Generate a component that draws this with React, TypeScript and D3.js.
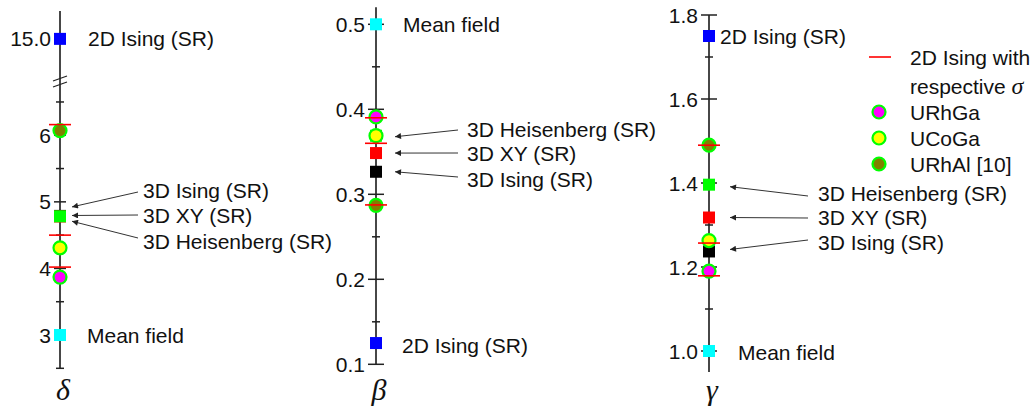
import React from "react";
import * as d3 from "d3";

// ---- data ----
const models = ["2D Ising (SR)", "3D Ising (SR)", "3D XY (SR)", "3D Heisenberg (SR)", "Mean field"];
const modelColors = ["#0000ff", "#000000", "#ff0000", "#00ff00", "#00ffff"];
const deltaModel = [15.0, 4.789, 4.78, 4.783, 3.0];
const betaModel = [0.125, 0.3265, 0.3485, 0.3689, 0.5];
const gammaModel = [1.75, 1.237, 1.3178, 1.396, 1.0];

const materials = ["URhGa", "UCoGa", "URhAl [10]"];
const materialColors = ["#ff00ff", "#ffff00", "#808000"];
const deltaExp = [3.87, 4.31, 6.07];
const betaExp = [0.391, 0.369, 0.287];
const gammaExp = [1.19, 1.263, 1.49];

// 2D Ising with respective sigma
const deltaSigma = [4.02, 4.5, 6.16];
const betaSigma = [0.39, 0.36, 0.2875];
const gammaSigma = [1.179, 1.257, 1.49];

const deltaMajor = [3, 4, 5, 6, 15.0];
const deltaMinor = [2.5, 3.5, 4.5, 5.5, 6.5];
const betaMajor = [0.1, 0.2, 0.3, 0.4, 0.5];
const betaMinor = [0.15, 0.25, 0.35, 0.45];
const gammaMajor = [1.0, 1.2, 1.4, 1.6, 1.8];
const gammaMinor = [1.1, 1.3, 1.5, 1.7];

const FONT = "'Liberation Sans', Arial, sans-serif";
const SERIF = "'Liberation Serif', 'Times New Roman', serif";
const FS = 21;

// scales
const yDelta = d3.scaleLinear().domain([2.5, 6.8, 14.35, 15.42]).range([368.3, 82, 82, 11]);
const yBeta = d3.scaleLinear().domain([0.1, 0.52]).range([364.3, 7.3]);
const yGamma = d3.scaleLinear().domain([0.95, 1.8]).range([372, 15]);

type AxisSpec = {
  x: number;
  y: d3.ScaleLinear<number, number>;
  top: number;
  bottom: number;
  major: number[];
  minor: number[];
  fmt: (v: number) => string;
  majorLen: number;
  symbol: string;
  model: number[];
  exp: number[];
  sigma: number[];
  brk?: number;
  labelFixed: { idx: number; x: number; y: number }[];
  arrows: { idx: number; tx: number; ty: number; hx: number; hy: number; lx: number; ly: number }[];
};

const axes: AxisSpec[] = [
  {
    x: 60, y: yDelta, top: 15.42, bottom: 2.5, major: deltaMajor, minor: deltaMinor,
    fmt: (v) => (v >= 10 ? v.toFixed(1) : String(v)), majorLen: 6, symbol: "δ",
    model: deltaModel, exp: deltaExp, sigma: deltaSigma, brk: 82,
    labelFixed: [{ idx: 0, x: 88, y: 0 }, { idx: 4, x: 87, y: 0 }],
    arrows: [
      { idx: 1, tx: 138, ty: 192, hx: 72, hy: -9, lx: 143, ly: 190 },
      { idx: 2, tx: 138, ty: 215, hx: 72, hy: -1, lx: 143, ly: 215 },
      { idx: 3, tx: 138, ty: 238, hx: 72, hy: 5, lx: 143, ly: 241 },
    ],
  },
  {
    x: 376, y: yBeta, top: 0.52, bottom: 0.1, major: betaMajor, minor: betaMinor,
    fmt: (v) => v.toFixed(1), majorLen: 8, symbol: "β",
    model: betaModel, exp: betaExp, sigma: betaSigma,
    labelFixed: [{ idx: 4, x: 403, y: 0 }, { idx: 0, x: 402, y: 2 }],
    arrows: [
      { idx: 3, tx: 458, ty: 130, hx: 395, hy: 1, lx: 467, ly: 129 },
      { idx: 2, tx: 458, ty: 153, hx: 395, hy: 0, lx: 467, ly: 153 },
      { idx: 1, tx: 458, ty: 177, hx: 395, hy: 0, lx: 467, ly: 179 },
    ],
  },
  {
    x: 709, y: yGamma, top: 1.8, bottom: 0.95, major: gammaMajor, minor: gammaMinor,
    fmt: (v) => v.toFixed(1), majorLen: 8, symbol: "γ",
    model: gammaModel, exp: gammaExp, sigma: gammaSigma,
    labelFixed: [{ idx: 0, x: 720, y: 0 }, { idx: 4, x: 738, y: 1 }],
    arrows: [
      { idx: 3, tx: 808, ty: 196, hx: 730, hy: 2, lx: 818, ly: 193 },
      { idx: 2, tx: 808, ty: 218, hx: 730, hy: 0, lx: 818, ly: 217 },
      { idx: 1, tx: 808, ty: 240, hx: 730, hy: -2, lx: 818, ly: 242 },
    ],
  },
];

const SQ = 12;
const R = 6.5;

function Axis({ a }: { a: AxisSpec }) {
  const y0 = a.y(a.top);
  const y1 = a.y(a.bottom);
  return (
    <g>
      <line x1={a.x} x2={a.x} y1={y0} y2={y1} stroke="#333" strokeWidth={1.8} />
      {a.brk !== undefined && (
        <g stroke="#222" strokeWidth={1.3}>
          <line x1={a.x - 7} y1={a.brk - 1} x2={a.x + 7} y2={a.brk - 6} />
          <line x1={a.x - 7} y1={a.brk + 5} x2={a.x + 7} y2={a.brk} />
        </g>
      )}
      {a.major.map((v) => (
        <g key={"M" + v}>
          <line x1={a.x - a.majorLen} x2={a.x + a.majorLen} y1={a.y(v)} y2={a.y(v)} stroke="#222" strokeWidth={1.5} />
          <text x={a.x - a.majorLen - 3} y={a.y(v)} textAnchor="end" dominantBaseline="central"
            fontFamily={FONT} fontSize={FS} fill="#111">{a.fmt(v)}</text>
        </g>
      ))}
      {a.minor.map((v) => (
        <line key={"m" + v} x1={a.x - 4} x2={a.x + 4} y1={a.y(v)} y2={a.y(v)} stroke="#222" strokeWidth={1.5} />
      ))}
      {a.model.map((v, i) => (
        <rect key={"s" + i} x={a.x - SQ / 2} y={a.y(v) - SQ / 2} width={SQ} height={SQ} fill={modelColors[i]} />
      ))}
      {a.exp.map((v, i) => (
        <circle key={"c" + i} cx={a.x} cy={a.y(v)} r={R} fill={materialColors[i]} stroke="#00ff00" strokeWidth={2.2} />
      ))}
      {a.sigma.map((v, i) => (
        <line key={"r" + i} x1={a.x - 11} x2={a.x + 11} y1={a.y(v)} y2={a.y(v)} stroke="#ff0000" strokeWidth={1.6} />
      ))}
      {a.labelFixed.map((l) => (
        <text key={"lf" + l.idx} x={l.x} y={a.y(a.model[l.idx]) + l.y} dominantBaseline="central"
          fontFamily={FONT} fontSize={FS} fill="#111">{models[l.idx]}</text>
      ))}
      {a.arrows.map((r) => (
        <g key={"ar" + r.idx}>
          <line x1={r.tx} y1={r.ty} x2={r.hx} y2={a.y(a.model[r.idx]) + r.hy} stroke="#333" strokeWidth={1}
            markerEnd="url(#arrowhead)" />
          <text x={r.lx} y={r.ly} dominantBaseline="central" fontFamily={FONT} fontSize={FS} fill="#111">
            {models[r.idx]}
          </text>
        </g>
      ))}
      <text x={a.x + 3} y={389} textAnchor="middle" dominantBaseline="central" fontFamily={SERIF}
        fontStyle="italic" fontSize={30} fill="#111">{a.symbol}</text>
    </g>
  );
}

export default function App() {
  const legendRows = [112, 138, 164];
  return (
    <svg width={1036} height={407} style={{ position: "absolute", left: 0, top: 0, background: "#fff" }}>
      <defs>
        <marker id="arrowhead" viewBox="0 0 10 10" refX="10" refY="5" markerWidth="9" markerHeight="6"
          markerUnits="userSpaceOnUse" orient="auto">
          <path d="M0,0 L10,5 L0,10 z" fill="#222" />
        </marker>
      </defs>
      {axes.map((a, i) => <Axis key={i} a={a} />)}
      {/* legend */}
      <line x1={869} x2={891} y1={57} y2={57} stroke="#ff0000" strokeWidth={1.6} />
      <text x={910} y={57} dominantBaseline="central" fontFamily={FONT} fontSize={FS} fill="#111">2D Ising with</text>
      <text x={910} y={86} dominantBaseline="central" fontFamily={FONT} fontSize={FS} fill="#111">
        respective <tspan fontFamily={SERIF} fontStyle="italic" fontSize={24}>σ</tspan>
      </text>
      {materials.map((m, i) => (
        <g key={m}>
          <circle cx={879} cy={legendRows[i]} r={R} fill={materialColors[i]} stroke="#00ff00" strokeWidth={2.2} />
          <text x={910} y={legendRows[i]} dominantBaseline="central" fontFamily={FONT} fontSize={FS} fill="#111">{m}</text>
        </g>
      ))}
    </svg>
  );
}
